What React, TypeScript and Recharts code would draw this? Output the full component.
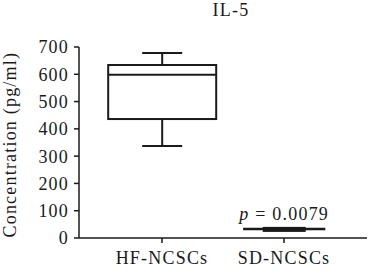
import { Bar, ComposedChart, LabelList, XAxis, YAxis } from "recharts";

const groups = ["HF-NCSCs", "SD-NCSCs"];
const mins = [337, 32];
const q1s = [436, 26];
const medians = [598, 32];
const q3s = [634, 37];
const maxs = [678, 34];
const pValues = ["", "0.0079"];
const yTicks = [0, 100, 200, 300, 400, 500, 600, 700];

const data = groups.map((name, i) => ({
  name,
  min: mins[i],
  q1: q1s[i],
  median: medians[i],
  q3: q3s[i],
  max: maxs[i],
  p: pValues[i],
}));

// the two boxes are drawn differently in the figure
const boxLook: Record<string, { box: number; cap: number; fill: string }> = {
  "HF-NCSCs": { box: 108, cap: 40, fill: "none" },
  "SD-NCSCs": { box: 41, cap: 82, fill: "#333" },
};

const ink = "#1a1a1a";
const font = "'Liberation Serif', serif";
const textStyle = { fill: ink, fontSize: 18, fontFamily: font, letterSpacing: 1.2 };

function BoxShape(props: any) {
  const { x, y, width, height, payload } = props;
  const cx = x + width / 2;
  const k = height / payload.max;
  const py = (v: number) => y + height - v * k;
  const look = boxLook[payload.name];

  return (
    <g stroke={ink} strokeWidth={2}>
      <line x1={cx} x2={cx} y1={py(payload.q3)} y2={py(payload.max)} />
      <line x1={cx} x2={cx} y1={py(payload.q1)} y2={py(payload.min)} />
      <line x1={cx - look.cap / 2} x2={cx + look.cap / 2} y1={py(payload.max)} y2={py(payload.max)} />
      <line x1={cx - look.cap / 2} x2={cx + look.cap / 2} y1={py(payload.min)} y2={py(payload.min)} />
      <rect
        x={cx - look.box / 2}
        y={py(payload.q3)}
        width={look.box}
        height={py(payload.q1) - py(payload.q3)}
        fill={look.fill}
      />
      <line
        x1={cx - look.box / 2}
        x2={cx + look.box / 2}
        y1={py(payload.median)}
        y2={py(payload.median)}
      />
    </g>
  );
}

function PLabel(props: any) {
  const { x, y, width, value } = props;
  if (!value) return null;
  return (
    <text x={x + width / 2} y={y - 9} textAnchor="middle" {...textStyle}>
      <tspan fontStyle="italic">p</tspan> = {value}
    </text>
  );
}

export default function App() {
  return (
    <div
      style={{
        position: "absolute",
        left: 0,
        top: 0,
        width: 368,
        height: 274,
        background: "#fff",
        fontFamily: font,
      }}
    >
      <div
        style={{
          position: "absolute",
          left: 231,
          top: 0,
          transform: "translateX(-50%)",
          fontSize: 18,
          letterSpacing: 1.2,
          color: ink,
        }}
      >
        IL-5
      </div>
      <ComposedChart
        width={368}
        height={274}
        data={data}
        margin={{ top: 47, right: 1, bottom: 0, left: 0 }}
      >
        <XAxis
          dataKey="name"
          height={36}
          padding={{ left: 22, right: 22 }}
          stroke={ink}
          strokeWidth={1.5}
          tickSize={5}
          tickMargin={8}
          tick={textStyle}
        />
        <YAxis
          width={79}
          domain={[0, 700]}
          ticks={yTicks}
          interval={0}
          stroke={ink}
          strokeWidth={1.5}
          tickSize={5}
          tickMargin={5}
          tick={textStyle}
          label={{
            value: "Concentration (pg/ml)",
            angle: -90,
            position: "insideLeft",
            dx: 5,
            dy: 95,
            ...textStyle,
          }}
        />
        <Bar dataKey="max" shape={<BoxShape />} isAnimationActive={false}>
          <LabelList dataKey="p" content={<PLabel />} />
        </Bar>
      </ComposedChart>
    </div>
  );
}
